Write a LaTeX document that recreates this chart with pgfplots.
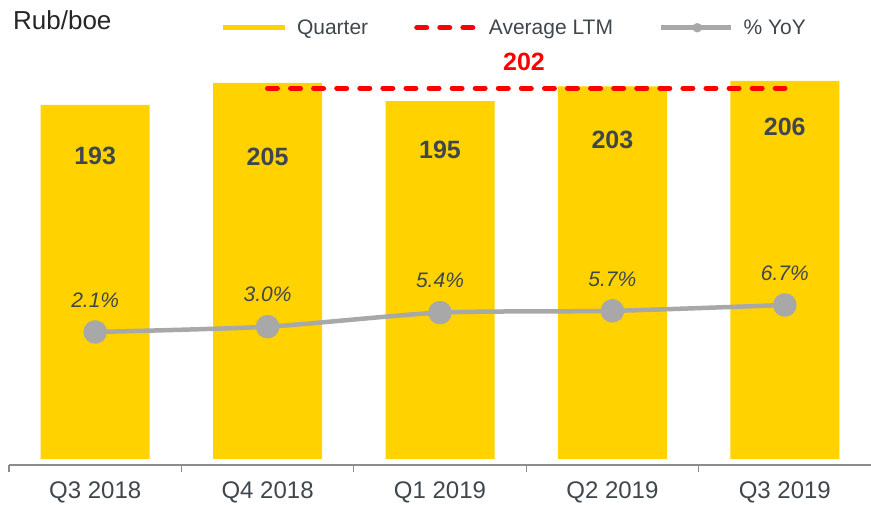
\documentclass[border=0pt]{standalone}
\usepackage{pgfplots}
\pgfplotsset{compat=1.18}
\usepackage{fontspec}
\setmainfont{Liberation Sans}
\definecolor{barY}{HTML}{FFD200}
\definecolor{lineG}{HTML}{A8A8A8}
\definecolor{txt}{HTML}{3F474D}
\definecolor{axG}{HTML}{8C8C8C}
\definecolor{ltmR}{HTML}{FF0000}

\begin{document}
\begin{tikzpicture}
\pgfplotsset{
  base/.style={scale only axis, width=862pt, height=465pt, xmin=-0.5, xmax=4.5, clip=false},
}
\begin{axis}[base,
  ymin=-3.3, ymax=250.1,
  axis x line*=bottom, axis y line=none,
  x axis line style={draw=axG, line width=1.3pt},
  xtick={0,1,2,3,4},
  xticklabels={Q3 2018,Q4 2018,Q1 2019,Q2 2019,Q3 2019},
  minor xtick={-0.5,0.5,1.5,2.5,3.5},
  major tick length=0pt, minor tick length=7pt, tick align=outside,
  minor tick style={draw=axG, line width=1.3pt},
  xticklabel style={font=\fontsize{24}{27}\selectfont, text=txt, anchor=north, inner sep=0pt, yshift=-17pt},
  legend columns=3,
  legend cell align=left,
  legend style={at={(0.2448,0.9404)}, anchor=west, draw=none, fill=none, inner sep=0pt, outer sep=0pt,
    font=\fontsize{21}{24}\selectfont, text=txt, nodes={inner sep=0pt},
    /tikz/every odd column/.append style={column sep=10pt},
    /tikz/every even column/.append style={column sep=46pt}},
]
\addplot[ybar, bar width=109pt, bar shift=0pt, fill=barY, draw=none,
  legend image code/.code={\draw[barY, line width=5pt] (0pt,0pt) -- (62pt,0pt);}]
  coordinates {(0,193) (1,205) (2,195) (3,203) (4,206)};
\addlegendentry{Quarter}
\addplot[ltmR, line width=5.3pt, line cap=round, dash pattern=on 9.7pt off 13.38pt,
  legend image code/.code={\draw[ltmR, line width=5.3pt, line cap=round, dash pattern=on 9.7pt off 13.38pt] (2.6pt,0pt) -- (62pt,0pt);}]
  coordinates {(1,202) (4,202)};
\addlegendentry{Average LTM}
\addlegendimage{legend image code/.code={\draw[lineG, line width=4.5pt] (0pt,0pt) -- (70pt,0pt); \fill[lineG] (36pt,0pt) circle (4.5pt);}}
\addlegendentry{\% YoY}
% bar value labels
\node[font=\bfseries\fontsize{25}{28}\selectfont, text=txt] at (axis cs:0,165.1) {193};
\node[font=\bfseries\fontsize{25}{28}\selectfont, text=txt] at (axis cs:1,164.6) {205};
\node[font=\bfseries\fontsize{25}{28}\selectfont, text=txt] at (axis cs:2,168.4) {195};
\node[font=\bfseries\fontsize{25}{28}\selectfont, text=txt] at (axis cs:3,173.8) {203};
\node[font=\bfseries\fontsize{25}{28}\selectfont, text=txt] at (axis cs:4,180.9) {206};
\node[font=\bfseries\fontsize{25}{28}\selectfont, text=ltmR] at (axis cs:2.487,216.3) {202};
\node[font=\fontsize{26}{30}\selectfont, text=black!85, anchor=west, inner sep=0pt] at (rel axis cs:0.0046,0.956) {Rub/boe};
\end{axis}
\begin{axis}[base, ymin=-20.56, ymax=58.66, hide axis,
  point meta=y,
  nodes near coords={\pgfmathprintnumber[fixed,precision=1,zerofill,assume math mode=true]{\pgfplotspointmeta}\%},
  every node near coord/.append style={font=\itshape\fontsize{21}{24}\selectfont, text=txt, anchor=center, yshift=32pt},
]
\addplot[lineG, line width=4.5pt, smooth, tension=0.4, mark=*, mark size=9.5pt,
  mark options={fill=lineG, draw=none, solid}]
  coordinates {(0,2.1) (1,3.0) (2,5.4) (3,5.7) (4,6.7)};
\end{axis}
\pgfresetboundingbox
\path[use as bounding box] ([xshift=-9pt,yshift=-39pt]current axis.south west) rectangle (current axis.north east);
\end{tikzpicture}
\end{document}
